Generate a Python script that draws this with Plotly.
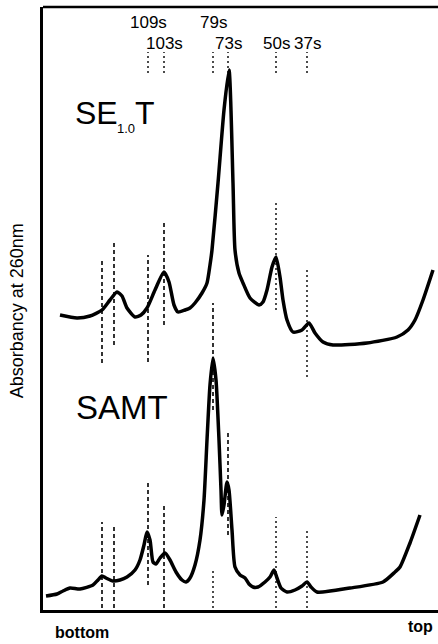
import plotly.graph_objects as go

# ---- data (position from tube bottom, arbitrary units; absorbancy, arbitrary units) ----
se_x = [17, 34, 47, 59, 67, 74, 79, 84, 92, 98, 104, 112, 121, 126, 131, 135, 142, 147, 152, 159,
        164, 167, 169, 175, 181, 186, 190, 192, 196, 200, 207, 216, 220, 224, 229, 233, 237, 240,
        244, 250, 259, 266, 272, 280, 290, 324, 354, 365, 372, 380, 390]
se_y = [295, 292, 294, 300, 310, 318, 314, 302, 293, 295, 302, 320, 338, 328, 305, 298, 300, 302, 307, 317,
        327, 345, 360, 427, 500, 540, 427, 360, 337, 327, 312, 305, 308, 320, 343, 353, 333, 310,
        290, 278, 280, 287, 277, 268, 265, 267, 273, 280, 290, 310, 340]

samt_x = [3, 14, 20, 27, 37, 50, 55, 59, 63, 70, 77, 84, 92, 97, 101, 104, 107, 110, 113, 117, 122,
          127, 133, 139, 143, 147, 152, 157, 161, 164, 167, 170, 173, 176, 178, 179, 181, 184, 186,
          189, 192, 197, 202, 206, 210, 215, 222, 227, 231, 234, 238, 244, 252, 259, 264, 268, 274,
          307, 340, 352, 357, 367, 377]
samt_y = [14, 16, 19, 22, 21, 25, 30, 34, 32, 29, 30, 33, 40, 50, 65, 78, 70, 48, 46, 52, 57,
          50, 38, 30, 28, 32, 45, 70, 110, 170, 225, 252, 230, 170, 120, 95, 105, 128, 120,
          80, 43, 35, 32, 26, 23, 23, 28, 33, 40, 32, 22, 18, 20, 24, 28, 23, 18,
          22, 28, 38, 43, 67, 95]

# sedimentation markers
marker_labels = ["109s", "103s", "79s", "73s", "50s", "37s"]
marker_pos = [105, 121, 170, 185, 233, 264]
marker_row = [1, 2, 1, 2, 2, 2]
marker_lo, marker_hi = 537, 558

# guide lines through the SE1.0T trace
se_guide_x = [59, 71, 105, 121]
se_guide_lo = [247, 265, 248, 285]
se_guide_hi = [352, 367, 355, 388]
se_dot_x = [233, 264]
se_dot_lo = [300, 233]
se_dot_hi = [408, 340]

# guide lines through the SAMT trace
samt_guide_x = [59, 71, 105, 121, 170, 185]
samt_guide_lo = [2, 2, 25, 2, 200, 75]
samt_guide_hi = [88, 83, 130, 107, 307, 180]
samt_dot_x = [170, 233, 264]
samt_dot_lo = [2, 2, 2]
samt_dot_hi = [40, 93, 82]


def segs(xs, los, his):
    X, Y = [], []
    for x, a, b in zip(xs, los, his):
        X += [x, x, None]
        Y += [a, b, None]
    return X, Y


fig = go.Figure()

dash_style = dict(color="black", width=1.6, dash="4px,3px")
dot_style = dict(color="black", width=1.4, dash="2px,3px")

X, Y = segs(se_guide_x, se_guide_lo, se_guide_hi)
fig.add_trace(go.Scatter(x=X, y=Y, mode="lines", line=dash_style, hoverinfo="skip"))
X, Y = segs(se_dot_x, se_dot_lo, se_dot_hi)
fig.add_trace(go.Scatter(x=X, y=Y, mode="lines", line=dot_style, hoverinfo="skip"))
X, Y = segs(samt_guide_x, samt_guide_lo, samt_guide_hi)
fig.add_trace(go.Scatter(x=X, y=Y, mode="lines", line=dash_style, hoverinfo="skip"))
X, Y = segs(samt_dot_x, samt_dot_lo, samt_dot_hi)
fig.add_trace(go.Scatter(x=X, y=Y, mode="lines", line=dot_style, hoverinfo="skip"))
X, Y = segs(marker_pos, [marker_lo] * len(marker_pos), [marker_hi] * len(marker_pos))
fig.add_trace(go.Scatter(x=X, y=Y, mode="lines", line=dot_style, hoverinfo="skip"))

fig.add_trace(go.Scatter(x=se_x, y=se_y, mode="lines", name="SE1.0T",
                         line=dict(color="black", width=3.5, shape="spline", smoothing=0.6)))
fig.add_trace(go.Scatter(x=samt_x, y=samt_y, mode="lines", name="SAMT",
                         line=dict(color="black", width=3.5, shape="spline", smoothing=0.6)))

FONT = "Liberation Sans, Arial, sans-serif"
ann = []
for lab, pos, row in zip(marker_labels, marker_pos, marker_row):
    ann.append(dict(x=pos, y=588 if row == 1 else 567, text=lab, showarrow=False,
                    font=dict(size=17, color="black", family=FONT),
                    xanchor="center", yanchor="middle"))
# SE1.0T label built from pieces so the subscript sits between SE and T
ann.append(dict(x=30, y=497, text="SE", showarrow=False,
                font=dict(size=32, color="black", family=FONT), xanchor="left", yanchor="middle"))
ann.append(dict(x=72, y=482, text="1.0", showarrow=False,
                font=dict(size=13, color="black", family=FONT), xanchor="left", yanchor="middle"))
ann.append(dict(x=90, y=497, text="T", showarrow=False,
                font=dict(size=32, color="black", family=FONT), xanchor="left", yanchor="middle"))
ann.append(dict(x=79, y=203, text="SAMT", showarrow=False,
                font=dict(size=33, color="black", family=FONT), xanchor="center", yanchor="middle"))
ann.append(dict(x=39, yref="paper", y=-0.038, text="<b>bottom</b>", showarrow=False,
                font=dict(size=16, color="black", family=FONT), xanchor="center", yanchor="middle"))
ann.append(dict(x=377, yref="paper", y=-0.028, text="<b>top</b>", showarrow=False,
                font=dict(size=16, color="black", family=FONT), xanchor="center", yanchor="middle"))
ann.append(dict(xref="paper", yref="paper", x=-0.066, y=0.497, text="Absorbancy at 260nm",
                textangle=-90, showarrow=False,
                font=dict(size=18, color="black", family=FONT), xanchor="center", yanchor="middle"))

fig.update_layout(
    width=438, height=644,
    margin=dict(l=43, r=0, t=7, b=34),
    paper_bgcolor="white", plot_bgcolor="white",
    showlegend=False,
    annotations=ann,
    shapes=[dict(type="line", xref="paper", yref="paper", x0=0, x1=1, y0=1, y1=1,
                 line=dict(color="black", width=2.5))],
    xaxis=dict(range=[0, 395], showgrid=False, zeroline=False, showticklabels=False, ticks="",
               showline=True, linecolor="black", linewidth=3, mirror=False),
    yaxis=dict(range=[0, 603], showgrid=False, zeroline=False, showticklabels=False, ticks="",
               showline=True, linecolor="black", linewidth=3, mirror=False),
)

fig.write_html("out.html", config={"displayModeBar": False},
               post_script="document.body.style.margin='0';document.body.style.padding='0';")
